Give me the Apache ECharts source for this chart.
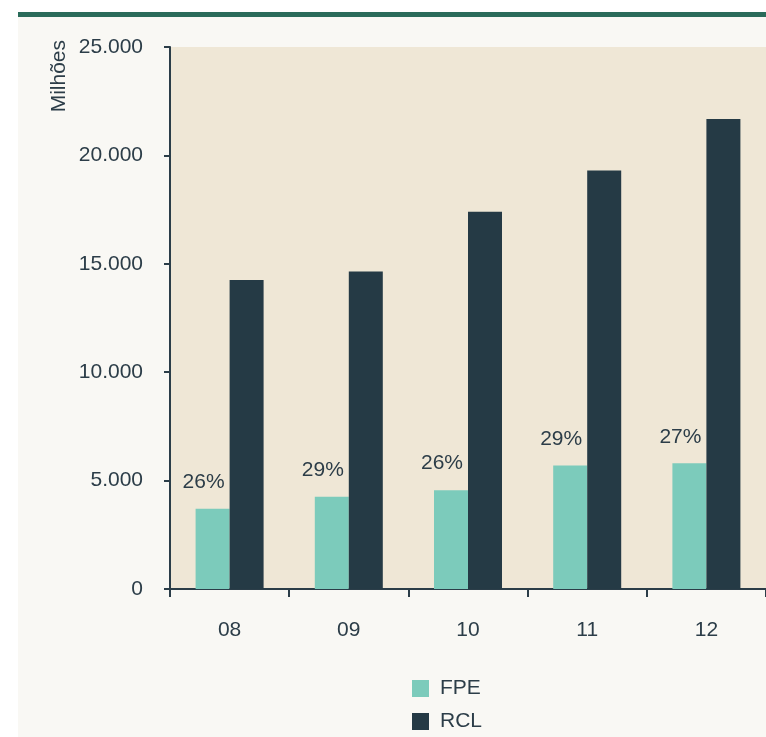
<!DOCTYPE html>
<html>
<head>
<meta charset="utf-8">
<script src="https://cdn.jsdelivr.net/npm/echarts@6/dist/echarts.min.js"></script>
<style>
  html, body { margin: 0; padding: 0; background: #ffffff; }
  .panel {
    position: absolute;
    left: 18px; top: 12px; right: 0; bottom: 0;
    border-top: 5px solid #2a6b5a;
    background: #f9f8f4;
  }
  #chart { position: absolute; left: 0; top: 0; width: 766px; height: 737px; }
</style>
</head>
<body>
<div class="panel"></div>
<div id="chart"></div>
<script>
const years = ['08', '09', '10', '11', '12']
const fpe = [3700, 4250, 4560, 5700, 5800]
const rcl = [14250, 14650, 17400, 19300, 21680]
const fpeShare = ['26%', '29%', '26%', '29%', '27%']

const textColor = '#2c3d48'
const font = 'Liberation Sans'
const fs = 21

const chart = echarts.init(document.getElementById('chart'))

// one legend per row, stacked like the original
const legendBase = {
  left: 412,
  padding: 0,
  itemWidth: 17, itemHeight: 17,
  icon: 'rect',
  textStyle: { color: textColor, fontSize: fs, fontFamily: font, padding: [0, 0, 0, 6] }
}

chart.setOption({
  backgroundColor: 'transparent',
  animation: false,
  textStyle: { fontFamily: font },
  grid: {
    left: 170, top: 47, width: 600, height: 542,
    show: true, backgroundColor: '#efe7d6', borderWidth: 0
  },
  graphic: [
    {
      type: 'text',
      left: 49, top: 40,
      rotation: Math.PI / 2,
      style: { text: 'Milhões', font: fs + 'px "Liberation Sans"', fill: textColor }
    }
  ],
  legend: [
    { ...legendBase, top: 678, data: ['FPE'] },
    { ...legendBase, top: 711, data: ['RCL'] }
  ],
  xAxis: {
    type: 'category',
    data: years,
    axisLine: { lineStyle: { color: '#2b3d48', width: 2 } },
    axisTick: { show: true, length: 8, lineStyle: { color: '#2b3d48', width: 2 } },
    axisLabel: { color: textColor, fontSize: fs, margin: 31 },
    splitLine: { show: false }
  },
  yAxis: {
    type: 'value',
    min: 0, max: 25000, interval: 5000,
    axisLine: { show: true, lineStyle: { color: '#2b3d48', width: 2 } },
    axisTick: { show: true, length: 6, lineStyle: { color: '#2b3d48', width: 2 } },
    axisLabel: {
      color: textColor, fontSize: fs, margin: 27,
      formatter: (v) => v === 0 ? '0' : String(v).replace(/\B(?=(\d{3})+(?!\d))/g, '.')
    },
    splitLine: { show: false }
  },
  series: [
    {
      name: 'FPE',
      type: 'bar',
      data: fpe,
      barWidth: 34,
      barGap: '0%',
      itemStyle: { color: '#7ccbbb' },
      label: {
        show: true,
        position: 'top',
        distance: 16,
        offset: [-9, 0],
        color: textColor,
        fontSize: fs,
        fontFamily: font,
        formatter: (p) => fpeShare[p.dataIndex]
      }
    },
    {
      name: 'RCL',
      type: 'bar',
      data: rcl,
      barWidth: 34,
      itemStyle: { color: '#253a45' }
    }
  ]
})

window.addEventListener('resize', () => chart.resize())
</script>
</body>
</html>
